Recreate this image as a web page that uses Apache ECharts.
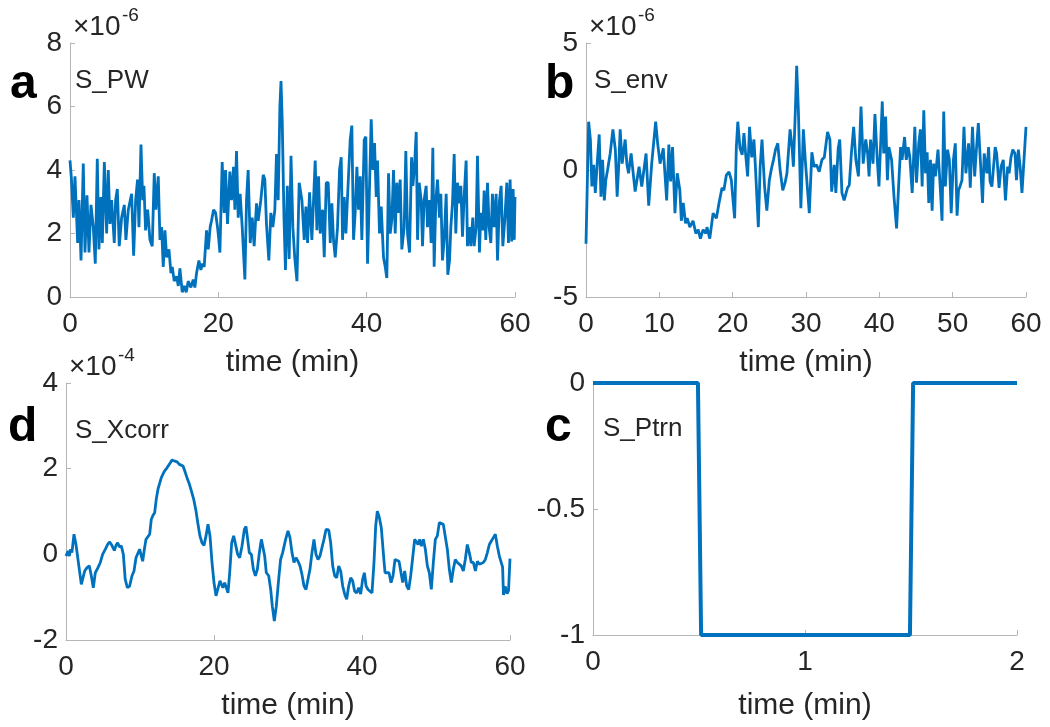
<!DOCTYPE html>
<html><head><meta charset="utf-8">
<script src="https://cdn.jsdelivr.net/npm/echarts@6/dist/echarts.min.js"></script>
<style>html,body{margin:0;padding:0;background:#fff}#chart{width:1050px;height:727px}</style>
</head><body><div id="chart"></div>
<script>
// ---- data (time in min, value in units of the axis exponent) ----
const sPW = [ // x 1e-6
[0,4.3],[0.2,3.7],[0.45,2.5],[0.67,3.8],[1.03,1.7],[1.21,3.05],[1.49,1.15],[1.79,4.2],[2.02,1.4],[2.29,3.2],
[2.56,1.4],[2.83,2.9],[3.14,2.2],[3.41,1.05],[3.68,4.35],[3.9,1.5],[4.17,3.15],[4.36,1.7],[4.63,4.25],[4.94,2.0],
[5.16,4.0],[5.39,2.3],[5.61,3.05],[5.97,1.7],[6.15,3.05],[6.38,3.4],[6.64,1.6],[6.96,2.5],[7.32,2.9],[7.54,1.8],
[7.86,2.75],[8.31,3.25],[8.58,1.3],[8.85,3.05],[9.11,3.7],[9.3,2.2],[9.57,4.8],[9.8,3.05],[9.97,3.5],[10.19,2.1],
[10.47,2.75],[10.78,1.8],[11.09,1.6],[11.36,3.9],[11.58,2.75],[11.9,3.8],[12.13,1.8],[12.35,2.2],[12.57,0.95],[12.8,2.1],
[13.03,1.25],[13.34,1.5],[13.61,0.75],[13.79,0.95],[14.05,0.5],[14.37,0.65],[14.6,0.35],[14.82,0.9],[15.13,0.15],[15.41,0.35],
[15.67,0.15],[15.94,0.5],[16.3,0.3],[16.61,0.55],[16.84,0.3],[17.06,0.75],[17.38,1.15],[17.65,0.85],[17.83,1.05],[18.09,0.95],
[18.41,2.1],[18.64,1.5],[18.9,2.2],[19.08,2.4],[19.36,2.75],[19.63,2.65],[19.89,2.2],[20.07,1.8],[20.21,1.4],[20.52,4.25],
[20.79,2.65],[20.97,4.0],[21.24,2.3],[21.55,3.95],[21.78,3.05],[22.05,4.1],[22.23,2.75],[22.45,4.6],[22.68,2.5],[22.94,3.25],
[23.22,2.2],[23.58,0.55],[23.8,3.05],[24.02,4.0],[24.3,1.7],[24.57,2.5],[24.83,1.6],[25.15,2.95],[25.37,2.4],[25.73,3.05],
[26.05,3.85],[26.27,3.7],[26.49,2.3],[26.81,1.15],[27.08,2.65],[27.35,2.2],[27.62,2.75],[27.84,4.5],[28.07,3.05],[28.3,6.0],
[28.45,6.8],[28.62,5.5],[28.85,2.5],[29.05,0.85],[29.3,3.5],[29.55,1.2],[29.8,4.45],[30.05,2.2],[30.3,1.25],[30.6,0.5],
[30.9,3.6],[31.27,3.05],[31.58,1.8],[31.81,2.85],[32.03,1.7],[32.3,3.3],[32.61,1.8],[32.84,3.05],[33.06,4.3],[33.29,2.1],
[33.51,3.8],[33.74,2.0],[34.05,2.75],[34.28,1.25],[34.55,3.6],[34.82,3.6],[35.09,1.7],[35.31,2.95],[35.53,1.8],[35.76,1.25],
[36.07,2.2],[36.34,4.0],[36.57,4.4],[36.75,1.8],[36.97,3.15],[37.2,2.0],[37.42,3.15],[37.78,4.95],[38.0,5.4],[38.23,1.8],
[38.45,2.65],[38.68,4.1],[38.9,2.75],[39.13,3.8],[39.35,1.8],[39.67,4.95],[39.89,5.05],[40.12,1.05],[40.34,3.05],[40.61,5.6],
[40.84,4.0],[41.06,4.85],[41.29,3.15],[41.46,4.3],[41.73,2.0],[41.96,2.85],[42.27,1.25],[42.5,0.95],[42.72,0.6],[42.95,3.9],
[43.17,2.0],[43.4,2.45],[43.62,4.0],[43.85,2.0],[44.07,3.6],[44.29,2.65],[44.52,3.7],[44.74,1.5],[45.06,2.2],[45.28,4.6],
[45.51,2.0],[45.78,1.4],[46.05,4.4],[46.23,3.5],[46.45,4.1],[46.68,5.2],[46.86,1.8],[47.08,3.6],[47.35,3.05],[47.53,1.6],
[47.75,3.05],[48.02,3.5],[48.2,2.2],[48.47,3.05],[48.69,1.7],[48.92,4.7],[49.1,0.95],[49.33,3.05],[49.55,3.7],[49.82,2.5],
[50.0,3.25],[50.22,1.15],[50.45,1.8],[50.72,3.25],[50.94,0.7],[51.17,1.15],[51.35,2.2],[51.57,2.95],[51.8,4.5],[52.02,2.0],
[52.25,3.6],[52.52,2.95],[52.7,3.5],[52.92,1.9],[53.14,3.15],[53.41,4.3],[53.59,1.6],[53.86,2.2],[54.04,1.6],[54.31,2.5],
[54.49,1.6],[54.76,2.2],[54.94,4.45],[55.21,1.4],[55.39,2.65],[55.66,2.1],[55.84,3.35],[56.06,1.8],[56.29,3.6],[56.51,2.2],
[56.74,1.7],[56.96,3.25],[57.19,2.2],[57.46,3.25],[57.64,1.15],[57.91,3.05],[58.13,3.5],[58.36,1.6],[58.63,2.45],[58.9,3.6],
[59.12,1.7],[59.34,3.7],[59.55,1.75],[59.75,3.4],[59.9,1.8],[60,3.15]
];
const sEnv = [ // x 1e-6
[0,-2.9],[0.36,1.9],[0.6,1.2],[0.8,-0.65],[1.04,0.2],[1.27,-0.9],[1.5,0.15],[1.8,1.4],[2.04,-1.05],[2.26,0.4],
[2.5,-1.2],[2.7,-0.4],[2.94,0],[3.3,0.65],[3.67,1.6],[4.0,0.8],[4.25,-1.05],[4.5,0.4],[4.66,1.6],[4.93,0.25],
[5.34,1.2],[5.57,0.25],[5.8,-0.13],[6.15,0.65],[6.7,-0.85],[7.24,0.13],[7.6,-0.65],[8.19,0.65],[8.55,-1.4],[8.96,0.25],
[9.5,1.9],[9.77,1.05],[10.1,0.25],[10.54,0.85],[11.0,-1.2],[11.3,1.0],[11.54,-0.45],[11.8,0.9],[12.13,-1.7],[12.44,-0.13],
[12.8,-0.8],[13.0,-2.0],[13.26,-1.3],[13.57,-2.1],[13.8,-1.9],[14.16,-2.25],[14.6,-2.0],[14.98,-2.5],[15.3,-2.35],[15.6,-2.7],
[15.97,-2.35],[16.33,-2.5],[16.5,-2.25],[16.88,-2.7],[17.33,-1.7],[17.78,-1.9],[18.14,-1.3],[18.55,-0.7],[18.8,-0.8],[19.14,-0.2],
[19.5,-0.07],[19.82,-0.4],[20.05,-1.2],[20.27,-1.9],[20.5,0.9],[20.7,1.9],[21.0,0.85],[21.3,0.6],[21.54,1.45],[21.76,0.65],
[22.04,-0.25],[22.3,1.7],[22.6,0.5],[22.9,1.2],[23.1,0.13],[23.5,-2.25],[23.75,0.13],[24.0,1.2],[24.35,-0.65],[24.66,-1.6],
[25.0,-0.4],[25.3,0.07],[25.57,0.4],[25.84,0.8],[26.15,1.05],[26.47,0],[26.83,-0.8],[27.15,-0.5],[27.4,-0.13],[27.83,1.6],
[28.1,0.9],[28.28,0.13],[28.55,2.35],[28.73,4.1],[28.96,2.35],[29.3,-1.5],[29.64,1.6],[29.9,0.4],[30.45,-1.7],[30.8,0.7],
[31.1,0.13],[31.45,0.2],[31.8,-0.07],[32.17,0.4],[32.5,0.5],[32.94,1.5],[33.26,1.2],[33.5,-0.85],[33.85,0.2],[34.07,-0.9],
[34.39,0.85],[34.6,1.2],[34.9,-0.9],[35.2,-1.2],[35.66,-0.7],[35.9,-0.6],[36.2,0.7],[36.5,1.7],[36.8,0.4],[37.15,-0.25],
[37.5,2.5],[37.8,0.25],[38.15,1.2],[38.4,0.65],[38.6,-0.25],[38.8,1.2],[39.14,0.25],[39.4,2.2],[39.7,0.5],[39.95,-0.65],
[40.2,1.2],[40.4,2.7],[40.6,0.65],[40.86,2.1],[41.1,-0.4],[41.3,0.9],[41.67,0.4],[42.0,-1.05],[42.35,-2.3],[42.67,-0.4],
[42.9,0.9],[43.1,0.4],[43.44,1.3],[43.67,0.4],[43.94,0.9],[44.16,0.5],[44.48,-0.9],[44.84,1.7],[45.07,-0.5],[45.38,1.05],
[45.6,1.6],[45.84,-0.65],[46.06,2.35],[46.3,-0.13],[46.52,0.7],[46.74,-1.3],[46.97,0.4],[47.2,-1.6],[47.4,0.25],[47.65,-0.25],
[48.0,0.8],[48.3,-0.65],[48.55,-2.0],[48.78,2.3],[49.0,-0.65],[49.3,0.8],[49.55,0.4],[49.8,-1.7],[50.1,0.4],[50.36,1.05],
[50.6,-1.8],[50.8,-0.8],[51.0,-0.65],[51.27,-0.4],[51.54,1.7],[51.8,-0.13],[52.17,1.05],[52.4,-0.7],[52.7,1.7],[53.0,-0.25],
[53.2,0.65],[53.5,1.85],[53.8,0.25],[54.07,-1.3],[54.3,0.65],[54.66,-0.13],[54.9,0.9],[55.1,-0.45],[55.35,-0.65],[55.8,0.9],
[56.0,0.65],[56.33,-0.7],[56.6,0.13],[56.9,0.4],[57.2,-1.2],[57.5,0.13],[57.7,-0.13],[57.95,0.5],[58.2,0.8],[58.5,0.65],
[58.7,-0.4],[58.96,0.8],[59.2,0.13],[59.45,-0.9],[60,1.7]
];
const sXcorr = [ // x 1e-4
[0,-0.04],[0.27,0.08],[0.45,-0.04],[0.63,0.12],[0.8,0.04],[1.08,0.47],[1.35,0.23],[1.58,0.19],[1.8,-0.35],[2.07,-0.7],
[2.3,-0.74],[2.52,-0.39],[2.84,-0.31],[3.15,-0.27],[3.42,-0.5],[3.69,-0.78],[3.96,-0.43],[4.32,-0.31],[4.64,-0.19],[4.95,0],
[5.32,0.12],[5.63,0.23],[5.9,0.29],[6.2,0.21],[6.53,0.09],[6.76,0.21],[6.98,0.27],[7.2,0.18],[7.48,0.19],[7.75,0],
[8.0,-0.58],[8.29,-0.78],[8.6,-0.74],[8.92,-0.5],[9.19,-0.39],[9.46,-0.08],[9.73,-0.04],[9.95,0.12],[10.18,-0.04],[10.36,-0.16],
[10.59,0.12],[10.81,0.35],[11.08,0.39],[11.31,0.47],[11.53,0.82],[11.76,0.91],[11.98,0.97],[12.2,1.29],[12.43,1.52],[12.66,1.56],
[12.88,1.79],[13.1,1.87],[13.33,1.95],[13.65,2.02],[13.87,2.06],[14.1,2.14],[14.32,2.2],[14.64,2.18],[15.0,2.16],[15.32,2.1],
[15.59,2.13],[15.81,2.06],[16.04,1.95],[16.35,1.79],[16.67,1.64],[16.94,1.48],[17.25,1.29],[17.57,1.01],[17.84,0.7],[18.1,0.43],
[18.38,0.27],[18.65,0.21],[18.92,0.43],[19.19,0.7],[19.46,0.43],[19.73,-0.19],[20.0,-0.66],[20.27,-0.97],[20.54,-0.97],[20.81,-0.62],
[20.99,-0.58],[21.2,-0.78],[21.44,-0.66],[21.67,-0.78],[21.89,-0.9],[22.12,-0.43],[22.39,0.27],[22.66,0.43],[22.93,0.39],[23.2,0],
[23.47,-0.08],[23.78,0.19],[24.1,0.58],[24.32,0.65],[24.55,0.35],[24.77,0.04],[25.05,0],[25.32,-0.35],[25.59,-0.5],[25.86,-0.35],
[26.13,0.04],[26.4,0.35],[26.62,0.35],[26.85,-0.04],[27.07,-0.43],[27.39,-0.5],[27.66,-0.82],[27.88,-1.21],[28.15,-1.56],[28.42,-1.21],
[28.74,-0.58],[29.0,-0.12],[29.28,0.04],[29.5,0.02],[29.68,0.35],[30.0,0.55],[30.27,0.39],[30.54,0.04],[30.81,-0.19],[31.08,-0.08],
[31.35,-0.16],[31.62,-0.27],[31.89,-0.47],[32.16,-0.74],[32.43,-0.82],[32.7,-0.58],[32.97,-0.35],[33.24,0.04],[33.51,0.35],[33.78,0],
[34.05,-0.12],[34.32,-0.04],[34.59,-0.08],[34.86,0.35],[35.14,0.58],[35.5,0.57],[35.77,0.27],[36.04,-0.27],[36.31,-0.5],[36.58,-0.55],
[36.85,-0.27],[37.12,-0.39],[37.39,-0.74],[37.66,-0.93],[37.93,-1.05],[38.2,-0.74],[38.47,-0.55],[38.74,-0.62],[39.0,-0.86],[39.28,-0.9],
[39.55,-0.78],[39.82,-0.93],[40.09,-0.58],[40.32,-0.43],[40.55,-0.74],[40.81,-0.82],[41.08,-0.78],[41.35,-0.9],[41.62,-0.19],[41.85,0.66],
[42.07,1.01],[42.34,0.86],[42.61,0.62],[42.88,0.04],[43.11,-0.43],[43.38,-0.47],[43.65,-0.43],[43.92,-0.66],[44.19,-0.5],[44.46,-0.12],
[44.73,-0.08],[45.0,-0.16],[45.27,-0.16],[45.5,-0.66],[45.77,-0.39],[46.04,-0.74],[46.31,-0.82],[46.58,-0.5],[46.85,-0.47],[47.12,0.35],
[47.34,0.39],[47.57,0.23],[47.79,0.35],[48.02,0.19],[48.29,0.35],[48.56,0.12],[48.83,-0.27],[49.1,-0.43],[49.37,-0.82],[49.64,-0.19],
[49.91,0.35],[50.18,0.43],[50.45,0.74],[50.72,0.78],[50.99,0.7],[51.26,0.66],[51.53,0.12],[51.8,-0.35],[52.07,-0.66],[52.34,-0.35],
[52.61,-0.12],[52.88,-0.19],[53.15,-0.23],[53.42,-0.27],[53.69,-0.39],[53.96,-0.12],[54.23,0.23],[54.5,0.04],[54.77,-0.19],[55.05,-0.19],
[55.32,-0.39],[55.59,-0.16],[55.86,-0.23],[56.13,-0.27],[56.4,-0.19],[56.67,-0.12],[56.94,0.04],[57.21,0.23],[57.48,0.31],[57.75,0.39],
[58.02,0.47],[58.29,0.19],[58.56,-0.04],[58.83,0],[59.0,-0.3],[59.12,-0.95],[59.35,-0.75],[59.6,-0.92],[59.8,-0.85],[60,-0.1]
];
const sPtrn = [[0,0],[0.495,0],[0.51,-1],[1.495,-1],[1.51,0],[2,0]];

const paLetters = ['a','b','d','c'];
const paNames = ['S_PW','S_env','S_Xcorr','S_Ptrn'];
const xName = 'time (min)';

// ---- styling ----
const FONT = "'Liberation Sans', Arial, Helvetica, sans-serif";
const TXT = '#262626', AX = '#b5b5b5', LINE = '#0072BD';

function xAx(grid, min, max, interval, gap) {
  return {
    type: 'value', gridIndex: grid, min, max, interval,
    name: xName, nameLocation: 'middle', nameGap: gap,
    nameTextStyle: {fontSize: 30, color: TXT, fontFamily: FONT, verticalAlign: 'middle'},
    axisLine: {show: true, onZero: false, lineStyle: {color: AX, width: 1}},
    axisTick: {show: true, inside: true, length: 5, lineStyle: {color: AX}},
    axisLabel: {fontSize: 28, color: TXT, fontFamily: FONT, margin: 13, showMaxLabel: true,
      formatter: v => (Math.abs(v / interval - Math.round(v / interval)) < 1e-6 ? String(+v.toFixed(4)) : '')},
    splitLine: {show: false}
  };
}
function yAx(grid, min, max, interval) {
  return {
    type: 'value', gridIndex: grid, min, max, interval,
    axisLine: {show: true, onZero: false, lineStyle: {color: AX, width: 1}},
    axisTick: {show: true, inside: true, length: 5, lineStyle: {color: AX}},
    axisLabel: {fontSize: 28, color: TXT, fontFamily: FONT, margin: 8},
    splitLine: {show: false}
  };
}
function ser(i, data, w) {
  return {type: 'line', xAxisIndex: i, yAxisIndex: i, data, showSymbol: false, symbol: 'none',
    lineStyle: {color: LINE, width: w}, clip: false, animation: false};
}
function txt(x, y, text, size, bold) {
  return {type: 'text', x, y, silent: true,
    style: {text, fill: bold ? '#000' : TXT, font: (bold ? 'bold ' : '') + size + 'px ' + FONT,
      textAlign: 'left', textVerticalAlign: 'middle'}};
}

const chart = echarts.init(document.getElementById('chart'), null, {renderer: 'canvas'});
chart.setOption({
  animation: false,
  backgroundColor: '#fff',
  grid: [
    {left: 70, top: 43, width: 445, height: 254},
    {left: 586, top: 43, width: 440, height: 254},
    {left: 66, top: 383, width: 444, height: 257},
    {left: 593, top: 383, width: 424, height: 252}
  ],
  xAxis: [xAx(0, 0, 60, 20, 66), xAx(1, 0, 60, 10, 66), xAx(2, 0, 60, 20, 66), xAx(3, 0, 2, 1, 71)],
  yAxis: [yAx(0, 0, 8, 2), yAx(1, -5, 5, 5), yAx(2, -2, 4, 2), yAx(3, -1, 0, 0.5)],
  series: [ser(0, sPW, 2.8), ser(1, sEnv, 2.8), ser(2, sXcorr, 2.8), ser(3, sPtrn, 4)],
  graphic: [
    txt(73, 27, '\u00d710', 28), txt(122, 16, '-6', 19),
    txt(589, 27, '\u00d710', 28), txt(638, 16, '-6', 19),
    txt(69, 367, '\u00d710', 28), txt(118, 356, '-4', 19),
    txt(10, 85, paLetters[0], 48, true), txt(545, 85, paLetters[1], 48, true),
    txt(8, 428, paLetters[2], 48, true), txt(545, 428, paLetters[3], 48, true),
    txt(75, 81, paNames[0], 26), txt(594, 81, paNames[1], 26),
    txt(75, 431, paNames[2], 26), txt(603, 429, paNames[3], 26)
  ]
});
</script></body></html>
